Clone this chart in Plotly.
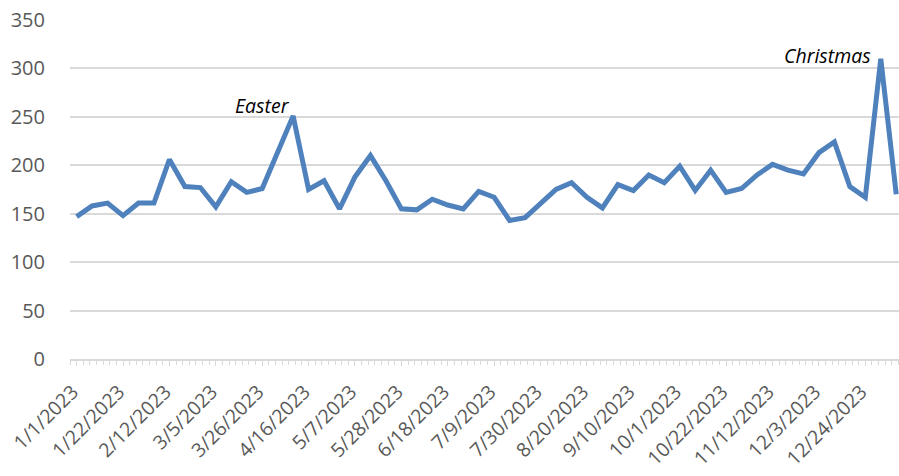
import plotly.graph_objects as go

weeks = [
    "2023-01-01", "2023-01-08", "2023-01-15", "2023-01-22", "2023-01-29",
    "2023-02-05", "2023-02-12", "2023-02-19", "2023-02-26", "2023-03-05",
    "2023-03-12", "2023-03-19", "2023-03-26", "2023-04-02", "2023-04-09",
    "2023-04-16", "2023-04-23", "2023-04-30", "2023-05-07", "2023-05-14",
    "2023-05-21", "2023-05-28", "2023-06-04", "2023-06-11", "2023-06-18",
    "2023-06-25", "2023-07-02", "2023-07-09", "2023-07-16", "2023-07-23",
    "2023-07-30", "2023-08-06", "2023-08-13", "2023-08-20", "2023-08-27",
    "2023-09-03", "2023-09-10", "2023-09-17", "2023-09-24", "2023-10-01",
    "2023-10-08", "2023-10-15", "2023-10-22", "2023-10-29", "2023-11-05",
    "2023-11-12", "2023-11-19", "2023-11-26", "2023-12-03", "2023-12-10",
    "2023-12-17", "2023-12-24", "2023-12-31", "2024-01-07",
]

values = [
    147, 158, 161, 148, 161, 161, 206, 178, 177, 157,
    183, 172, 176, 213, 251, 175, 184, 155, 188, 210,
    184, 155, 154, 165, 159, 155, 173, 167, 143, 146,
    161, 175, 182, 167, 156, 180, 174, 190, 182, 199,
    174, 195, 172, 176, 190, 201, 195, 191, 213, 224,
    178, 167, 310, 170,
]

annotation_labels = ["Easter", "Christmas"]
annotation_dates = ["2023-04-09", "2023-12-31"]
annotation_values = [251, 310]

LINE_COLOR = "#4f81bd"
GRID_COLOR = "#d9d9d9"
TEXT_COLOR = "#595959"
FONT = "Open Sans"

fig = go.Figure()
fig.add_trace(go.Scatter(
    x=weeks, y=values, mode="lines",
    line=dict(color=LINE_COLOR, width=5),
    hoverinfo="x+y",
))

ann_style = [
    dict(xshift=-1, yshift=-5, yanchor="bottom"),
    dict(xshift=-8, yshift=3, yanchor="middle"),
]
for lab, d, v, st in zip(annotation_labels, annotation_dates, annotation_values, ann_style):
    fig.add_annotation(
        x=d, y=v, text=f"<i>{lab}</i>", showarrow=False,
        xanchor="right", font=dict(family=FONT, size=19.5, color="#000000"),
        **st,
    )

fig.update_layout(
    width=899, height=476,
    margin=dict(l=70, r=0, t=20, b=117),
    paper_bgcolor="white", plot_bgcolor="white",
    showlegend=False,
    font=dict(family=FONT, size=20, color=TEXT_COLOR),
)

fig.update_xaxes(
    type="date", automargin=False,
    range=["2022-12-29", "2024-01-08 06:00"],
    tick0="2023-01-01", dtick=21 * 86400000,
    tickformat="%-m/%-d/%Y", tickangle=-45,
    showgrid=False, zeroline=False,
    showline=True, linecolor=GRID_COLOR, linewidth=1.5,
    ticks="outside", ticklen=5, tickcolor=GRID_COLOR, tickwidth=1,
    ticklabelstandoff=7, ticklabelshift=-4, ticklabeloverflow="allow",
    minor=dict(dtick=3 * 86400000, tick0="2023-01-01", ticks="outside",
               ticklen=4, tickcolor=GRID_COLOR, tickwidth=1, showgrid=False),
    tickfont=dict(family=FONT, size=19.5, color=TEXT_COLOR),
)

fig.update_yaxes(
    automargin=False,
    range=[0, 350], dtick=50,
    showgrid=True, gridcolor=GRID_COLOR, gridwidth=1.5,
    zeroline=False, showline=False,
    ticks="", ticklabelstandoff=24, ticklabeloverflow="allow",
    tickfont=dict(family=FONT, size=20, color=TEXT_COLOR),
)

# remove the default page margin so the figure fills the window exactly
page_css = (
    "document.body.style.margin='0';"
    "document.body.style.overflow='hidden';"
    "document.documentElement.style.overflow='hidden';"
)
fig.write_html("out.html", post_script=page_css,
               config={"displayModeBar": False})
